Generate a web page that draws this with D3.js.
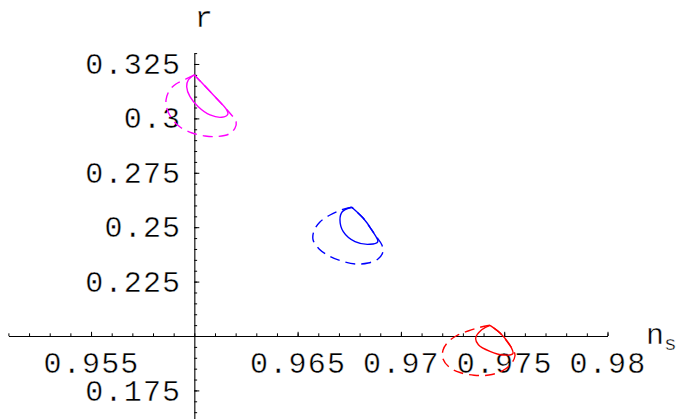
<!DOCTYPE html>
<html>
<head>
<meta charset="utf-8">
<script src="https://cdn.jsdelivr.net/npm/d3@7"></script>
<style>
  html, body { margin: 0; padding: 0; background: #fff; }
  svg { display: block; }
  .lbl { font-family: "Liberation Mono", "DejaVu Sans Mono", monospace; fill: #000;
         stroke: #fff; stroke-width: 0.4px; paint-order: fill stroke; }
</style>
</head>
<body>
<svg id="chart" width="683" height="419"></svg>
<script>
// ---- data (n_s, r) ----
const xMajorTicks = [0.955, 0.965, 0.97, 0.975, 0.98];
const xTickLabels = ["0.955", "0.965", "0.97", "0.975", "0.98"];
const yMajorTicks = [0.175, 0.225, 0.25, 0.275, 0.3, 0.325];
const yTickLabels = ["0.175", "0.225", "0.25", "0.275", "0.3", "0.325"];

const magentaInnerNs = [0.96000, 0.95971, 0.95963, 0.95979, 0.96019, 0.96076, 0.96133, 0.96162, 0.96157, 0.96092, 0.96042, 0.96000];
const magentaInnerR  = [0.31994, 0.31765, 0.31458, 0.30998, 0.30539, 0.30157, 0.30051, 0.30189, 0.30387, 0.31076, 0.31582, 0.31994];
const magentaOuterNs = [0.96000, 0.95960, 0.95911, 0.95878, 0.95863, 0.95868, 0.95892, 0.95931, 0.95989, 0.96052, 0.96115, 0.96168, 0.96197, 0.96202, 0.96182, 0.96092, 0.96042, 0.96000];
const magentaOuterR  = [0.31994, 0.31812, 0.31582, 0.31260, 0.30847, 0.30433, 0.29973, 0.29606, 0.29330, 0.29192, 0.29169, 0.29284, 0.29560, 0.29881, 0.30134, 0.31076, 0.31582, 0.31994];

const blueInnerNs = [0.96762, 0.96716, 0.96705, 0.96721, 0.96778, 0.96850, 0.96888, 0.96859, 0.96818, 0.96762];
const blueInnerR  = [0.25915, 0.25712, 0.25331, 0.24793, 0.24334, 0.24214, 0.24334, 0.24871, 0.25409, 0.25915];
const blueOuterNs = [0.96762, 0.96710, 0.96657, 0.96608, 0.96579, 0.96575, 0.96604, 0.96657, 0.96720, 0.96783, 0.96841, 0.96889, 0.96913, 0.96908, 0.96879, 0.96859, 0.96818, 0.96762];
const blueOuterR  = [0.25915, 0.25791, 0.25561, 0.25239, 0.24826, 0.24412, 0.23999, 0.23654, 0.23424, 0.23309, 0.23355, 0.23539, 0.23861, 0.24182, 0.24596, 0.24871, 0.25409, 0.25915];

const redInnerNs = [0.97431, 0.97391, 0.97362, 0.97375, 0.97431, 0.97494, 0.97542, 0.97533, 0.97480, 0.97431];
const redInnerR  = [0.20492, 0.20290, 0.19908, 0.19600, 0.19297, 0.19127, 0.19196, 0.19494, 0.20138, 0.20492];
const redOuterNs = [0.97431, 0.97383, 0.97325, 0.97271, 0.97228, 0.97204, 0.97204, 0.97233, 0.97286, 0.97354, 0.97426, 0.97489, 0.97533, 0.97552, 0.97547, 0.97533, 0.97480, 0.97431];
const redOuterR  = [0.20492, 0.20400, 0.20230, 0.20023, 0.19724, 0.19357, 0.18943, 0.18575, 0.18322, 0.18198, 0.18208, 0.18391, 0.18713, 0.19081, 0.19311, 0.19494, 0.20138, 0.20492];

const contours = [
  { ns: magentaOuterNs, r: magentaOuterR, color: "#ff00ff", dashed: true },
  { ns: magentaInnerNs, r: magentaInnerR, color: "#ff00ff", dashed: false },
  { ns: blueOuterNs, r: blueOuterR, color: "#0000ff", dashed: true },
  { ns: blueInnerNs, r: blueInnerR, color: "#0000ff", dashed: false },
  { ns: redOuterNs, r: redOuterR, color: "#ff0000", dashed: true },
  { ns: redInnerNs, r: redInnerR, color: "#ff0000", dashed: false }
];

// ---- scales ----
const x = d3.scaleLinear().domain([0.951, 0.98]).range([8.4, 607.5]);
const y = d3.scaleLinear().domain([0.1615, 0.33]).range([419.8, 53.1]);
const x0 = 0.96, y0 = 0.2;

const svg = d3.select("#chart");
const fontSize = 30;

// ---- x axis (minor + major) ----
const xMinor = svg.append("g")
  .attr("transform", `translate(0,${y(y0)})`)
  .call(d3.axisBottom(x).tickValues(x.ticks(30)).tickSizeInner(-2.7).tickSizeOuter(0).tickFormat(""));
xMinor.select(".domain").attr("stroke-width", 1.1);

const xMajor = svg.append("g")
  .attr("transform", `translate(0,${y(y0)})`)
  .call(d3.axisBottom(x).tickValues(xMajorTicks).tickSizeInner(-4.2).tickSizeOuter(0).tickPadding(16)
    .tickFormat((d, i) => xTickLabels[i]));
xMajor.select(".domain").remove();
xMajor.selectAll("text").attr("class", "lbl").attr("font-size", fontSize).attr("letter-spacing", "1.2px");

// ---- y axis (minor + major) ----
const yMinor = svg.append("g")
  .attr("transform", `translate(${x(x0)},0)`)
  .call(d3.axisLeft(y).tickValues(y.ticks(34)).tickSizeInner(-2.8).tickSizeOuter(0).tickFormat(""));
yMinor.select(".domain").attr("stroke-width", 1.1);

const yMajor = svg.append("g")
  .attr("transform", `translate(${x(x0)},0)`)
  .call(d3.axisLeft(y).tickValues(yMajorTicks).tickSizeInner(-5).tickSizeOuter(0).tickPadding(13)
    .tickFormat((d, i) => yTickLabels[i]));
yMajor.select(".domain").remove();
yMajor.selectAll("text").attr("class", "lbl").attr("font-size", fontSize).attr("letter-spacing", "1.2px");

// ---- axis titles ----
svg.append("text").attr("class", "lbl")
  .attr("x", x(x0) + 0.5).attr("y", 27)
  .attr("font-size", fontSize)
  .text("r");
const ns = svg.append("text").attr("class", "lbl")
  .attr("x", 646).attr("y", 343.5)
  .attr("font-size", fontSize);
ns.append("tspan").text("n");
ns.append("tspan").attr("font-size", 21).attr("dy", 6.5).text("s");

// ---- contours ----
const line = d3.line()
  .x(d => x(d[0]))
  .y(d => y(d[1]))
  .curve(d3.curveCatmullRom.alpha(0.5));

svg.append("g").selectAll("path")
  .data(contours)
  .join("path")
  .attr("d", c => line(c.ns.map((v, i) => [v, c.r[i]])))
  .attr("fill", "none")
  .attr("stroke", c => c.color)
  .attr("stroke-width", 1.4)
  .attr("stroke-dasharray", c => c.dashed ? "10,6" : null);
</script>
</body>
</html>
